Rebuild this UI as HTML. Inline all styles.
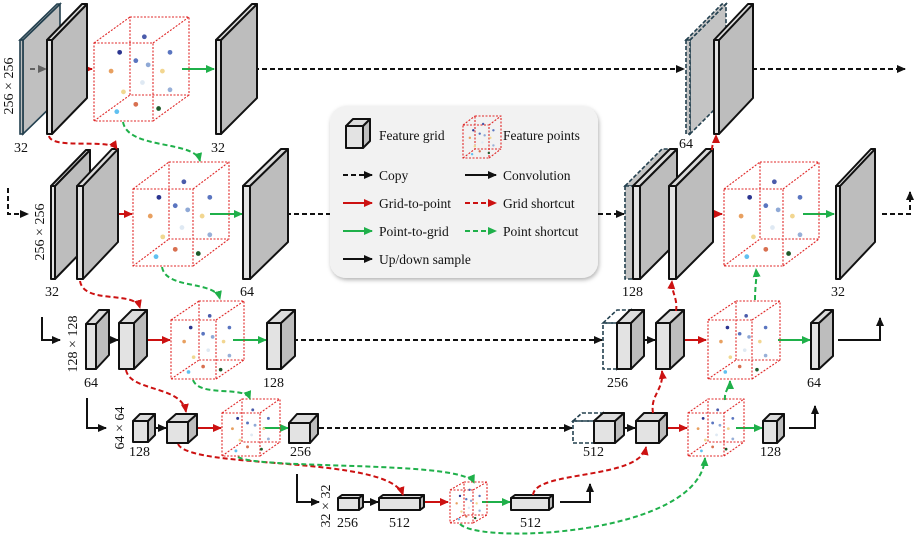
<!DOCTYPE html>
<html><head><meta charset="utf-8"><style>
html,body{margin:0;padding:0;background:#fff;}
svg{display:block;}
text{font-family:"Liberation Serif",serif;fill:#111;}
</style></head><body>
<svg id="s" width="917" height="539" viewBox="0 0 917 539" xmlns="http://www.w3.org/2000/svg">
<defs>
<marker id="mk" markerUnits="userSpaceOnUse" markerWidth="9" markerHeight="8" refX="8" refY="4" orient="auto"><path d="M0,0 L9,4 L0,8 z" fill="#111"/></marker>
<marker id="mr" markerUnits="userSpaceOnUse" markerWidth="9" markerHeight="8" refX="8" refY="4" orient="auto"><path d="M0,0 L9,4 L0,8 z" fill="#cc1111"/></marker>
<marker id="mg" markerUnits="userSpaceOnUse" markerWidth="9" markerHeight="8" refX="8" refY="4" orient="auto"><path d="M0,0 L9,4 L0,8 z" fill="#1fb04a"/></marker>
<filter id="sh" x="-10%" y="-10%" width="120%" height="130%"><feDropShadow dx="1" dy="2" stdDeviation="2" flood-opacity="0.3"/></filter>
</defs>
<g id="lines"></g>
<g id="legend">
<rect x="330" y="106" width="268" height="172" rx="16" fill="#f2f2f2" filter="url(#sh)"/>
<text x="379" y="140" font-size="13.5">Feature grid</text>
<text x="503" y="140" font-size="13.5">Feature points</text>
<text x="379" y="180" font-size="13.5">Copy</text>
<text x="503" y="180" font-size="13.5">Convolution</text>
<text x="379" y="208" font-size="13.5">Grid-to-point</text>
<text x="503" y="208" font-size="13.5">Grid shortcut</text>
<text x="379" y="236" font-size="13.5">Point-to-grid</text>
<text x="503" y="236" font-size="13.5">Point shortcut</text>
<text x="379" y="264" font-size="13.5">Up/down sample</text>
</g>
<g id="boxes"></g>
<g id="curves"></g>
<g id="labels" font-size="14">
<text x="14" y="152">32</text>
<text x="211" y="152">32</text>
<text x="45" y="296">32</text>
<text x="240" y="296">64</text>
<text x="84" y="387">64</text>
<text x="263" y="387">128</text>
<text x="129" y="456">128</text>
<text x="290" y="456">256</text>
<text x="337" y="527">256</text>
<text x="389" y="527">512</text>
<text x="520" y="527">512</text>
<text x="679" y="148">64</text>
<text x="622" y="296">128</text>
<text x="831" y="296">32</text>
<text x="607" y="387">256</text>
<text x="807" y="387">64</text>
<text x="583" y="456">512</text>
<text x="760" y="456">128</text>
<text transform="translate(13,86) rotate(-90)" text-anchor="middle">256 × 256</text>
<text transform="translate(44,232) rotate(-90)" text-anchor="middle">256 × 256</text>
<text transform="translate(77,344) rotate(-90)" text-anchor="middle">128 × 128</text>
<text transform="translate(124,428) rotate(-90)" text-anchor="middle">64 × 64</text>
<text transform="translate(330,506) rotate(-90)" text-anchor="middle">32 × 32</text>
</g>
</svg>
<script>
const NS="http://www.w3.org/2000/svg";
function el(parent,tag,attrs){const e=document.createElementNS(NS,tag);for(const k in attrs)e.setAttribute(k,attrs[k]);document.getElementById(parent).appendChild(e);return e;}
const C={k:"#111",r:"#cc1111",g:"#1fb04a"};
function line(d,c,dash,g){el(g||"lines","path",{d:d,fill:"none",stroke:C[c],"stroke-width":2,"stroke-dasharray":dash?"5,3":"none","marker-end":"url(#m"+c+")"});}
function h(x1,x2,y,c,dash,g){line(`M${x1} ${y} H${x2}`,c,dash,g);}
function box(x,y,w,h,dx,dy,ghost){
  let st;
  if(ghost==1) st={stroke:"#23404f","stroke-width":1.6,"stroke-dasharray":"4,2",fill:"none"};
  else if(ghost==2) st={stroke:"#23404f","stroke-width":1.6,fill:"rgba(150,150,150,0.6)"};
  else if(ghost==3) st={stroke:"#23404f","stroke-width":1.6,"stroke-dasharray":"4,2",fill:"#c4c4c4"};
  else st={stroke:"#111","stroke-width":2,"stroke-linejoin":"round"};
  el("boxes","path",Object.assign({d:`M${x+w} ${y}L${x+w+dx} ${y-dy}L${x+w+dx} ${y+h-dy}L${x+w} ${y+h}Z`,fill:ghost?st.fill:"#bdbdbd"},st));
  el("boxes","path",Object.assign({d:`M${x} ${y}L${x+dx} ${y-dy}L${x+w+dx} ${y-dy}L${x+w} ${y}Z`,fill:ghost?st.fill:"#dcdcdc"},st));
  el("boxes","rect",Object.assign({x:x,y:y,width:w,height:h,fill:ghost?st.fill:"#e3e3e3"},st));
}
const dots=[[.53,.19,"#4b5cab"],[.27,.34,"#2b3590"],[.44,.42,"#5a75c0"],[.57,.46,"#8fa9d6"],[.80,.34,"#5a75c0"],[.18,.52,"#e8a060"],[.72,.52,"#f2d690"],[.51,.63,"#dfe9f3"],[.31,.72,"#f0d890"],[.80,.70,"#98b0d8"],[.44,.84,"#d87050"],[.68,.88,"#1f5a2a"],[.24,.91,"#60c0f0"]];
function cube(x,y,w,h,dx,dy,g){
  g=g||"boxes";
  const s={fill:"none",stroke:"#e02828","stroke-width":1.1,"stroke-dasharray":"2,1.5"};
  el(g,"rect",Object.assign({x:x+dx,y:y-dy,width:w,height:h},s));
  el(g,"path",Object.assign({d:`M${x} ${y}L${x+dx} ${y-dy}M${x+w} ${y}L${x+w+dx} ${y-dy}M${x} ${y+h}L${x+dx} ${y+h-dy}M${x+w} ${y+h}L${x+w+dx} ${y+h-dy}`},s));
  el(g,"rect",Object.assign({x:x,y:y,width:w,height:h},s));
  const W=w+dx,H=h+dy,r=Math.max(1.2,W/40);
  for(const d of dots)el(g,"circle",{cx:x+d[0]*W,cy:y-dy+d[1]*H,r:r,fill:d[2]});
}
h(30,46,69,"k",1);h(60,92,69,"r");h(182,214,69,"g");h(238,684,69,"k",1);h(697,713,69,"k");h(736,905,69,"k",1);
line("M8 188 V214 H28","k",1);h(58,76,214,"k");h(99,132,214,"r");h(210,242,214,"g");h(270,624,214,"k",1);h(655,668,214,"k");h(690,722,214,"r");h(803,834,214,"g");line("M882 214 H910 V192","k",1);
line("M42 317 V340 H60","k");h(101,118,340,"k");h(140,170,340,"r");h(233,266,340,"g");h(285,602,340,"k",1);h(638,655,340,"k");h(676,706,340,"r");h(778,810,340,"g");line("M838 340 H880 V318","k");
line("M87 398 V428 H106","k");h(150,166,428,"k");h(194,221,428,"r");h(263,288,428,"g");h(319,572,428,"k",1);h(619,635,428,"k");h(662,687,428,"r");h(736,762,428,"g");line("M789 428 H815 V406","k");
line("M297 474 V502 H319","k");h(361,378,502,"k");h(423,448,502,"r");h(482,510,502,"g");line("M560 502 H590 V484","k");
h(343,372,175,"k",1,"legend");h(465,496,175,"k",0,"legend");
h(343,372,203,"r",0,"legend");h(465,496,203,"r",1,"legend");
h(343,372,231,"g",0,"legend");h(465,496,231,"g",1,"legend");
h(343,372,259,"k",0,"legend");
box(20,40,3,94,37,36,2);box(47,40,5,94,35,36);cube(94,43,59,78,36,26);box(216,40,5,94,36,36);
box(686,40,4,94,36,36,3);box(714,40,5,94,34,36);
box(51,186,4,93,35,36);box(77,186,6,93,35,37);cube(133,189,60,77,36,27);box(243,186,7,93,38,37);
box(625,186,8,93,37,37,3);box(633,186,7,93,37,37);box(669,186,7,93,37,37);cube(724,189,59,77,36,27);box(836,186,4,93,35,37);
box(86,324,10,45,13,14);box(119,323,15,46,13,13);cube(171,320,45,59,28,19);box(267,323,14,46,14,13);
box(603,323,14,46,14,13,1);box(617,323,14,46,13,13);box(656,323,14,46,14,13);cube(708,320,44,59,28,19);box(811,323,8,46,14,13);
box(133,421,15,21,7,7);box(167,422,21,21,9,8);cube(222,413,38,43,20,14);box(289,423,21,20,8,9);
box(573,421,21,22,9,8,1);box(594,421,21,22,9,8);box(636,421,23,22,8,8);cube(688,413,36,43,20,14);box(763,421,14,22,7,7);
box(338,498,21,12,4,3);box(379,498,41,12,4,3);cube(450,490,23,33,14,8);box(511,498,38,12,4,3);
box(346,126,17,22,7,7);cube(463,125,26,33,12,9,"legend");
function cv(d,c){line(d,c,1,"curves");}
cv("M49 136 C52 150,110 138,117 149","r");
cv("M80 281 C84 305,135 290,140 308","r");
cv("M126 370 C130 392,182 385,186 412","r");
cv("M178 444 C190 470,390 455,403 495","r");
cv("M533 495 C535 470,640 480,646 447","r");
cv("M653 413 C650 395,664 390,662 371","r");
cv("M676 311 C678 298,671 292,672 281","r");
cv("M712 150 C712 142,716 140,716 135","r");
cv("M123 122 C128 150,195 140,200 161","g");
cv("M162 267 C166 290,215 280,220 299","g");
cv("M193 380 C200 398,245 385,250 399","g");
cv("M238 457 C260 470,465 460,474 483","g");
cv("M460 524 C480 545,700 535,705 458","g");
cv("M725 400 C724 390,730 388,730 381","g");
cv("M755 300 C755 285,757 280,756 269","g");
</script>
</body></html>
